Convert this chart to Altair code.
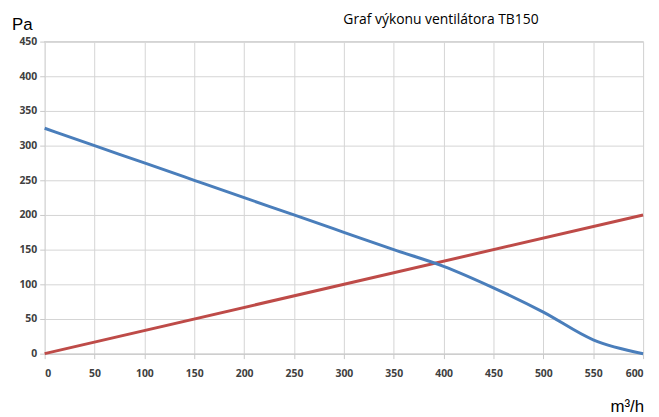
import altair as alt
import pandas as pd

flow = [0, 50, 100, 150, 200, 250, 300, 350, 400, 450, 500, 550, 600]
fan_pa = [325, 300, 275, 250, 225, 200, 175, 150, 126, 95, 60, 20, 0]
sys_flow = [0, 600]
sys_pa = [0, 200]

title_text = "Graf výkonu ventilátora TB150"
y_unit = "Pa"
x_unit = "m³/h"

fan = pd.DataFrame({"q": flow, "p": fan_pa})
sysdf = pd.DataFrame({"q": sys_flow, "p": sys_pa})

xs = alt.Scale(domain=[0, 600], nice=False)
ys = alt.Scale(domain=[0, 450], nice=False)

xax = alt.Axis(values=list(range(0, 601, 50)), title=None, grid=True, gridColor="#d4d4d4",
               domainColor="#c8c8c8", tickColor="#c8c8c8", tickSize=5, labelFont="Open Sans",
               labelFontWeight="bold", labelFontSize=10.5, labelColor="#404040", labelPadding=10,
               labelOverlap=False)
yax = alt.Axis(values=list(range(0, 451, 50)), title=None, grid=True, gridColor="#d4d4d4",
               domain=False, tickColor="#c8c8c8", tickSize=5, labelFont="Open Sans",
               labelFontWeight="bold", labelFontSize=10.5, labelColor="#404040", labelPadding=3,
               labelOverlap=False)

fan_line = alt.Chart(fan).mark_line(color="#4A7EBB", strokeWidth=3, interpolate="monotone").encode(
    x=alt.X("q:Q", scale=xs, axis=xax),
    y=alt.Y("p:Q", scale=ys, axis=yax),
)
sys_line = alt.Chart(sysdf).mark_line(color="#BE4B48", strokeWidth=3).encode(
    x=alt.X("q:Q", scale=xs, axis=xax),
    y=alt.Y("p:Q", scale=ys, axis=yax),
)

top_border = alt.Chart(fan).mark_rule(color="#d4d4d4").encode(
    x=alt.value(0), x2=alt.value(604), y=alt.value(0))

pa_text = alt.Chart(pd.DataFrame({"t": [y_unit]})).mark_text(
    font="Liberation Sans", fontSize=17, align="left", baseline="alphabetic", color="#000000"
).encode(text="t:N", x=alt.value(-33), y=alt.value(-12))

unit_text = alt.Chart(pd.DataFrame({"t": [x_unit]})).mark_text(
    font="Liberation Sans", fontSize=17, align="right", baseline="alphabetic", color="#000000"
).encode(text="t:N", x=alt.value(605), y=alt.value(374))

title = alt.Chart(pd.DataFrame({"t": [title_text]})).mark_text(
    font="Open Sans", fontSize=14, align="center", baseline="alphabetic", color="#000000"
).encode(text="t:N", x=alt.value(400), y=alt.value(-18))

chart = alt.layer(sys_line, fan_line, top_border, pa_text, unit_text, title).properties(
    width=604, height=315,
    autosize=alt.AutoSizeParams(type="none"),
    padding={"left": 37, "top": 32, "right": 8, "bottom": 60},
).configure_view(stroke=None).configure(background="#ffffff")

chart.save("out.html", embed_options={"renderer": "svg", "actions": False})
